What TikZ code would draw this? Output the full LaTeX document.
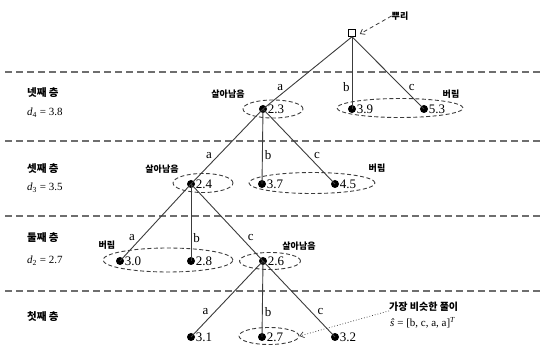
\documentclass[tikz,border=0pt]{standalone}
\usepackage{fontspec}
\setmainfont{Liberation Serif}
\newfontfamily\kr{Noto Sans CJK KR}
\usetikzlibrary{arrows.meta,shapes.geometric}
\definecolor{linegray}{RGB}{60,60,60}
\definecolor{sepgray}{RGB}{110,110,110}
\tikzset{
  tree edge/.style={line width=0.9pt,draw=linegray},
  leaf/.style={circle,fill=black,minimum size=8pt,inner sep=0pt},
  rootbox/.style={rectangle,draw=black,fill=white,line width=0.6pt,minimum size=7pt,inner sep=0pt},
  vlab/.style={font=\fontsize{13}{13}\selectfont,inner sep=0.5pt},
  elab/.style={font=\fontsize{13}{13}\selectfont,inner sep=2pt},
  group/.style={ellipse,draw=linegray,dashed,dash pattern=on 4pt off 2.5pt,line width=0.9pt,inner sep=0pt},
  layer sep/.style={draw=sepgray,line width=1.1pt,dash pattern=on 7pt off 4pt},
  layer name/.style={font=\kr\bfseries\fontsize{10.5}{10.5}\selectfont,anchor=west,inner sep=0pt},
  layer dist/.style={font=\fontsize{11}{11}\selectfont,anchor=west,inner sep=0pt},
  tag/.style={font=\kr\bfseries\fontsize{9}{9}\selectfont,inner sep=0pt},
  pointer/.style={-{Straight Barb[length=4pt,width=6pt]},draw=linegray,line width=0.8pt}
}

\begin{document}
\begin{tikzpicture}[x=1pt,y=-1pt]
  \useasboundingbox (0,0) rectangle (542,350);

  % layers
  \foreach \y in {72,141,216,291} {
    \draw[layer sep] (5,\y) -- (542,\y);
  }
  \node[layer name] (lay4) at (27,93) {넷째 층};
  \node[layer dist] (dist4) at (27,113) {\textit{d}\textsubscript{4} = 3.8};
  \node[layer name] (lay3) at (27,169) {셋째 층};
  \node[layer dist] (dist3) at (27,188) {\textit{d}\textsubscript{3} = 3.5};
  \node[layer name] (lay2) at (27,238) {둘째 층};
  \node[layer dist] (dist2) at (27,261) {\textit{d}\textsubscript{2} = 2.7};
  \node[layer name] (lay1) at (27,317) {첫째 층};

  % groups
  \node[group,minimum width=60pt,minimum height=18pt] (g23) at (273,109) {};
  \node[group,minimum width=126pt,minimum height=19pt] (g39) at (400,108) {};
  \node[group,minimum width=60pt,minimum height=19pt] (g24) at (203,183) {};
  \node[group,minimum width=126pt,minimum height=21pt] (g37) at (312,183) {};
  \node[group,minimum width=130pt,minimum height=24pt] (g30) at (168,260) {};
  \node[group,minimum width=61pt,minimum height=17pt] (g26) at (270,261) {};
  \node[group,minimum width=60pt,minimum height=17pt] (g27) at (269,336) {};

  % nodes
  \node[rootbox] (r) at (352,33) {};
  \node[leaf,label={[vlab]right:2.3}] (n23) at (263,109) {};
  \node[leaf,label={[vlab]right:3.9}] (n39) at (352,109) {};
  \node[leaf,label={[vlab]right:5.3}] (n53) at (424,109) {};
  \node[leaf,label={[vlab]right:2.4}] (n24) at (191,184) {};
  \node[leaf,label={[vlab]right:3.7}] (n37) at (262,184) {};
  \node[leaf,label={[vlab]right:4.5}] (n45) at (335,184) {};
  \node[leaf,label={[vlab]right:3.0}] (n30) at (120,261) {};
  \node[leaf,label={[vlab]right:2.8}] (n28) at (191,261) {};
  \node[leaf,label={[vlab]right:2.6}] (n26) at (263,261) {};
  \node[leaf,label={[vlab]right:3.1}] (n31) at (191,337) {};
  \node[leaf,label={[vlab]right:2.7}] (n27) at (262,337) {};
  \node[leaf,label={[vlab]right:3.2}] (n32) at (335,337) {};

  % edges
  \draw[tree edge] (r.south) -- node[elab,pos=0.7,left=4pt] {a} (n23.center);
  \draw[tree edge] (r.south) -- node[elab,pos=0.7,left] {b} (n39.center);
  \draw[tree edge] (r.south) -- node[elab,pos=0.7,right=4pt] {c} (n53.center);
  \draw[tree edge] (n23.center) -- node[elab,pos=0.62,left=4pt] {a} (n24.center);
  \draw[tree edge] (n23.center) -- node[elab,pos=0.62,right] {b} (n37.center);
  \draw[tree edge] (n23.center) -- node[elab,pos=0.62,right=4pt] {c} (n45.center);
  \draw[tree edge] (n24.center) -- node[elab,pos=0.7,left=4pt] {a} (n30.center);
  \draw[tree edge] (n24.center) -- node[elab,pos=0.7,right] {b} (n28.center);
  \draw[tree edge] (n24.center) -- node[elab,pos=0.7,right=4pt] {c} (n26.center);
  \draw[tree edge] (n26.center) -- node[elab,pos=0.67,left=4pt] {a} (n31.center);
  \draw[tree edge] (n26.center) -- node[elab,pos=0.67,right] {b} (n27.center);
  \draw[tree edge] (n26.center) -- node[elab,pos=0.67,right=4pt] {c} (n32.center);

  % tags
  \node[tag] (keep4) at (228,94) {살아남음};
  \node[tag] (drop4) at (451,94) {버림};
  \node[tag] (keep3) at (162,169) {살아남음};
  \node[tag] (drop3) at (377,168) {버림};
  \node[tag] (drop2) at (107,245) {버림};
  \node[tag] (keep2) at (299,246) {살아남음};
  \node[tag] (rootlab) at (400,16) {뿌리};
  \node[tag,anchor=west,font=\kr\bfseries\fontsize{10}{10}\selectfont] (best) at (389,307) {가장 비슷한 풀이};
  \node[font=\fontsize{11}{11}\selectfont,anchor=west,inner sep=0pt] (bestvec) at (390,323)
    {\textit{ŝ} = [b, c, a, a]\textsuperscript{\textit{T}}};

  \draw[pointer,dash pattern=on 4pt off 3pt] (rootlab.west) -- ([xshift=4pt,yshift=-1pt]r.east);
  \draw[pointer,dotted,line width=0.7pt] ([yshift=1pt]best.south west) -- (g27.east);
\end{tikzpicture}
\end{document}
